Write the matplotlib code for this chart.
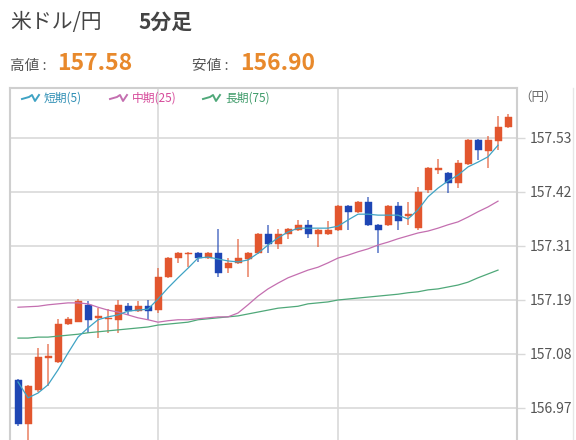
import matplotlib
matplotlib.use("Agg")
import matplotlib.pyplot as plt
from matplotlib.lines import Line2D
from matplotlib.patches import Rectangle

plt.rcParams['font.family'] = ['Noto Sans CJK JP', 'DejaVu Sans']

# ---------------- data ----------------
title_pair = "米ドル/円"
title_span = "5分足"
high_label = "高値"
low_label = "安値"
high_value = "157.58"
low_value = "156.90"
unit_label = "（円）"
legend_labels = ["短期(5)", "中期(25)", "長期(75)"]

opens = [157.028, 156.937, 157.007, 157.074, 157.065, 157.144, 157.148, 157.184, 157.157, 157.155,
         157.153, 157.181, 157.171, 157.181, 157.173, 157.242, 157.281, 157.289, 157.291, 157.281,
         157.291, 157.260, 157.271, 157.279, 157.291, 157.331, 157.310, 157.331, 157.339, 157.350,
         157.331, 157.331, 157.339, 157.389, 157.377, 157.397, 157.350, 157.350, 157.389, 157.368,
         157.343, 157.422, 157.464, 157.457, 157.437, 157.476, 157.526, 157.503, 157.524, 157.553]
highs = [157.030, 157.018, 157.094, 157.103, 157.155, 157.159, 157.196, 157.192, 157.177, 157.175,
         157.194, 157.188, 157.192, 157.194, 157.260, 157.283, 157.293, 157.293, 157.293, 157.293,
         157.341, 157.281, 157.321, 157.293, 157.333, 157.350, 157.341, 157.343, 157.360, 157.360,
         157.341, 157.358, 157.391, 157.391, 157.399, 157.408, 157.352, 157.391, 157.397, 157.397,
         157.428, 157.470, 157.486, 157.459, 157.484, 157.528, 157.528, 157.534, 157.576, 157.580]
lows = [156.933, 156.900, 157.003, 157.016, 157.063, 157.142, 157.148, 157.126, 157.115, 157.126,
        157.126, 157.163, 157.169, 157.153, 157.167, 157.240, 157.271, 157.262, 157.273, 157.279,
        157.242, 157.250, 157.269, 157.242, 157.289, 157.291, 157.300, 157.321, 157.337, 157.323,
        157.304, 157.329, 157.337, 157.339, 157.375, 157.348, 157.291, 157.348, 157.339, 157.350,
        157.339, 157.416, 157.455, 157.416, 157.426, 157.474, 157.484, 157.468, 157.505, 157.551]
closes = [156.937, 157.016, 157.076, 157.078, 157.144, 157.155, 157.192, 157.153, 157.161, 157.157,
          157.184, 157.171, 157.181, 157.171, 157.242, 157.281, 157.291, 157.291, 157.281, 157.291,
          157.250, 157.271, 157.281, 157.291, 157.331, 157.310, 157.331, 157.341, 157.350, 157.331,
          157.339, 157.339, 157.389, 157.377, 157.397, 157.350, 157.339, 157.389, 157.358, 157.372,
          157.418, 157.468, 157.468, 157.437, 157.478, 157.526, 157.505, 157.526, 157.553, 157.574]

ma5 = [157.024, 156.991, 157.001, 157.018, 157.049, 157.084, 157.117, 157.136, 157.153, 157.159,
       157.163, 157.171, 157.173, 157.175, 157.196, 157.219, 157.240, 157.260, 157.281, 157.283,
       157.279, 157.275, 157.273, 157.277, 157.291, 157.308, 157.323, 157.335, 157.343, 157.343,
       157.343, 157.343, 157.347, 157.360, 157.372, 157.372, 157.370, 157.370, 157.370, 157.362,
       157.381, 157.408, 157.426, 157.441, 157.453, 157.470, 157.480, 157.491, 157.515]
ma25 = [157.179, 157.180, 157.181, 157.184, 157.186, 157.188, 157.188, 157.186, 157.179, 157.173,
        157.169, 157.163, 157.157, 157.153, 157.148, 157.151, 157.153, 157.153, 157.155, 157.157,
        157.159, 157.159, 157.167, 157.184, 157.202, 157.217, 157.229, 157.240, 157.248, 157.256,
        157.262, 157.271, 157.281, 157.287, 157.294, 157.300, 157.308, 157.314, 157.321, 157.327,
        157.333, 157.337, 157.343, 157.350, 157.356, 157.366, 157.377, 157.387, 157.399]
ma75 = [157.115, 157.115, 157.117, 157.117, 157.119, 157.121, 157.123, 157.126, 157.128, 157.130,
        157.132, 157.134, 157.136, 157.138, 157.142, 157.144, 157.146, 157.148, 157.153, 157.155,
        157.157, 157.159, 157.161, 157.165, 157.169, 157.173, 157.177, 157.179, 157.181, 157.186,
        157.188, 157.190, 157.194, 157.196, 157.198, 157.200, 157.202, 157.204, 157.206, 157.209,
        157.211, 157.215, 157.217, 157.221, 157.225, 157.231, 157.240, 157.248, 157.256]

ytick_values = [156.97, 157.082, 157.194, 157.306, 157.418, 157.53]
ytick_labels = ["156.97", "157.08", "157.19", "157.31", "157.42", "157.53"]
vgrid_index = [14, 32]

# ---------------- style ----------------
UP = "#E2562E"
DOWN = "#1E46B4"
C5 = "#3FA3C4"
C25 = "#C46FB0"
C75 = "#4FA879"
GRID = "#D9D9D9"
ORANGE = "#E8892C"
W, H = 576, 440

fig = plt.figure(figsize=(W / 100, H / 100), dpi=100)
fig.patch.set_facecolor("white")

ax = fig.add_axes([10 / W, 0, 507 / W, 352 / H])
ax.set_xlim(-0.8, 49.9)
ax.set_ylim(156.9036, 157.6337)

for v in ytick_values:
    ax.axhline(v, color=GRID, lw=1.2, zorder=0)
for i in vgrid_index:
    ax.axvline(i, color=GRID, lw=1.2, zorder=0)

n = len(opens)
for i in range(n):
    o, h, l, c = opens[i], highs[i], lows[i], closes[i]
    col = UP if c >= o else DOWN
    ax.vlines(i, l, h, color=col, lw=1.1, alpha=0.75, zorder=2)
    lo, hi = min(o, c), max(o, c)
    if hi - lo < 0.003:
        lo, hi = (lo + hi) / 2 - 0.0015, (lo + hi) / 2 + 0.0015
    ax.add_patch(Rectangle((i - 0.35, lo), 0.7, hi - lo, facecolor=col,
                           edgecolor=col, lw=0.3, zorder=3))

xs = list(range(len(ma5)))
ax.plot(xs, ma75, color=C75, lw=0.9, zorder=4)
ax.plot(xs, ma25, color=C25, lw=0.9, zorder=4)
ax.plot(xs, ma5, color=C5, lw=0.9, zorder=4)

ax.yaxis.tick_right()
ax.set_yticks(ytick_values)
ax.set_yticklabels(ytick_labels)
ax.tick_params(axis='y', length=6, width=1.0, color=GRID, pad=3,
               labelsize=10, labelcolor="#555555")
ax.set_xticks([])
for s in ["left", "right", "top"]:
    ax.spines[s].set_color("#CFCFCF")
    ax.spines[s].set_linewidth(1.5)
ax.spines["bottom"].set_visible(False)

# unit label
fig.text(519 / W, 1 - 97 / H, unit_label, fontsize=9, color="#666666", va="center", ha="left")

# faint right edge line
fig.add_artist(Line2D([573 / W, 573 / W], [0, 1 - 88 / H], color="#E6E6E6", lw=1.0))

# legend icons + labels
def wave(x0, y0, color):
    xsw = [x0, x0 + 7, x0 + 10, x0 + 13, x0 + 17]
    ysw = [y0 + 1, y0 - 1, y0 - 3, y0 + 3, y0 - 3]
    fig.add_artist(Line2D([x / W for x in xsw], [1 - y / H for y in ysw],
                          color=color, lw=1.4))

leg = [(22, C5, "#2F8FB5"), (110, C25, "#D64A9A"), (203, C75, "#3E9B69")]
for (x0, lc, tc), lab in zip(leg, legend_labels):
    wave(x0, 98, lc)
    fig.text((x0 + 22) / W, 1 - 98 / H, lab, fontsize=8.5, color=tc, va="center", ha="left")

# header
fig.text(10 / W, 1 - 22 / H, title_pair, fontsize=15, color="#444444", va="center", ha="left")
fig.text(138 / W, 1 - 22 / H, title_span, fontsize=15, color="#444444", va="center", ha="left",
         fontweight="bold")
fig.text(10 / W, 1 - 66 / H, high_label + " :", fontsize=10.5, color="#555555", va="center", ha="left")
fig.text(57 / W, 1 - 63 / H, high_value, fontsize=16.5, color=ORANGE, va="center", ha="left",
         fontweight="bold")
fig.text(192 / W, 1 - 66 / H, low_label + " :", fontsize=10.5, color="#555555", va="center", ha="left")
fig.text(240 / W, 1 - 63 / H, low_value, fontsize=16.5, color=ORANGE, va="center", ha="left",
         fontweight="bold")

fig.savefig("out.png", dpi=100, facecolor="white")
